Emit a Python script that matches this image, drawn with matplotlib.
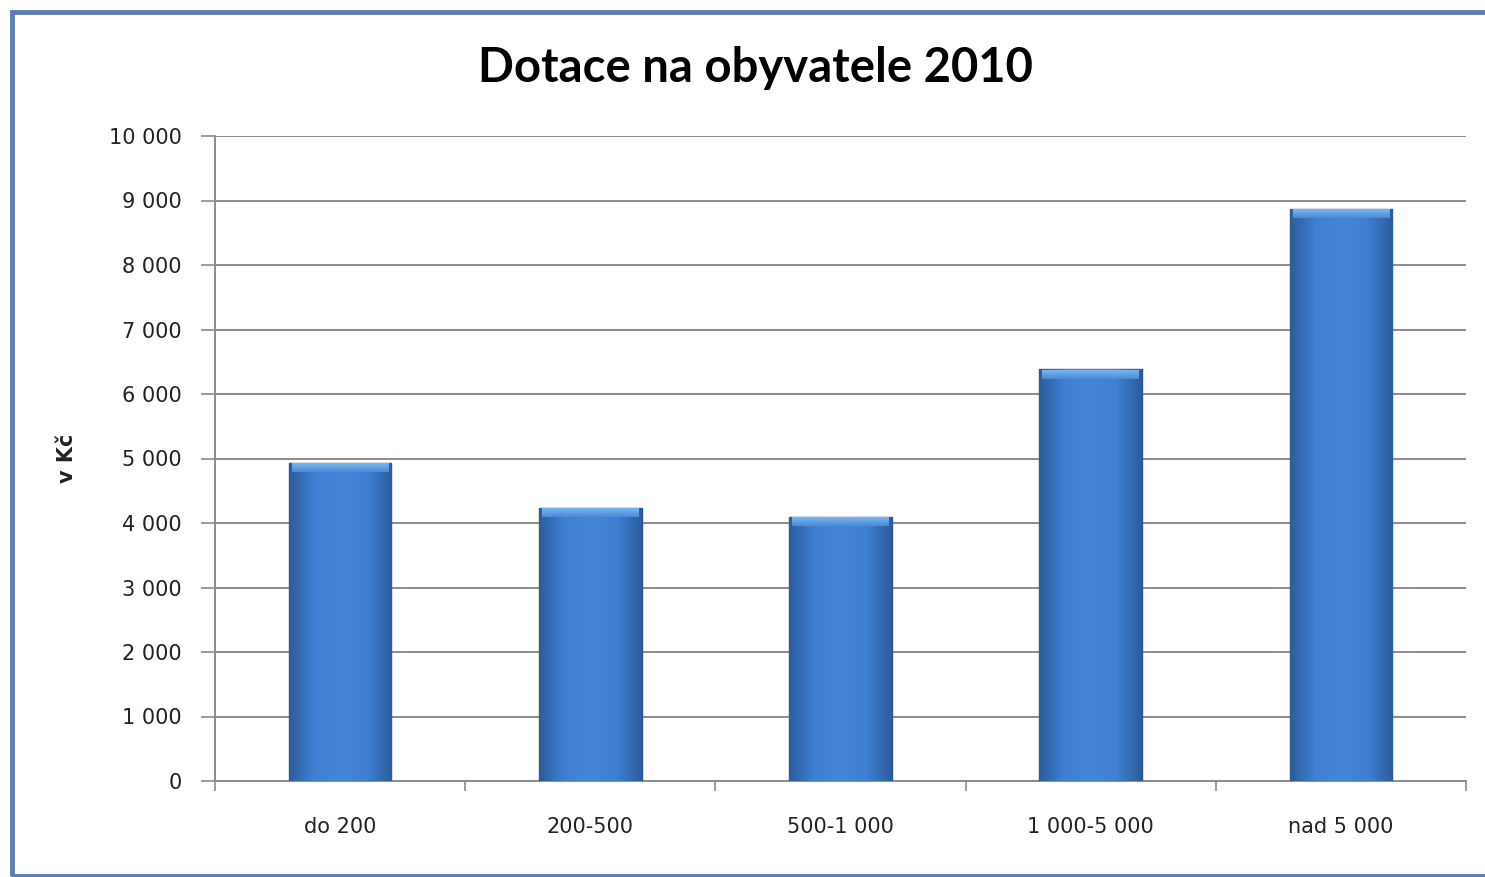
import numpy as np
import matplotlib.pyplot as plt
from matplotlib.patches import Rectangle
from matplotlib.colors import LinearSegmentedColormap

categories = ["do 200", "200-500", "500-1 000", "1 000-5 000", "nad 5 000"]
values = [4930, 4230, 4090, 6380, 8870]
yticks = list(range(0, 10001, 1000))
ytick_labels = ["0" if v == 0 else f"{v:,}".replace(",", " ") for v in yticks]

plt.rcParams['font.family'] = ['DejaVu Sans']

fig = plt.figure(figsize=(14.85, 8.77), dpi=100)
ax = fig.add_axes([215 / 1485, 96 / 877, 1251 / 1485, 645 / 877])

x = np.arange(len(categories))
width = 0.41
bars = ax.bar(x, values, width=width, color='#3b78c8', edgecolor='#2a5590',
              linewidth=1.0, zorder=3)

# horizontal gradient inside each bar (darker edges, lighter middle)
grad_cmap = LinearSegmentedColormap.from_list(
    'barg', ['#2b5c9e', '#3f80d2', '#4585d6', '#3f80d2', '#2b5c9e'])
grad = np.linspace(0, 1, 256).reshape(1, -1)
bevel_cmap = LinearSegmentedColormap.from_list('bev', ['#4a8ad8', '#7ab6ee'])
bev = np.linspace(0, 1, 32).reshape(-1, 1)
for b in bars:
    x0, w, h = b.get_x(), b.get_width(), b.get_height()
    im = ax.imshow(grad, cmap=grad_cmap, aspect='auto',
                   extent=[x0, x0 + w, 0, h], zorder=3.5)
    im.set_clip_path(b)
    # light bevel at the top
    ax.imshow(bev, cmap=bevel_cmap, aspect='auto', origin='lower',
              extent=[x0 + w * 0.03, x0 + w * 0.97, h - 140, h - 15], zorder=4)

ax.set_xlim(-0.5, len(categories) - 0.5)
ax.set_ylim(0, 10000)
ax.set_yticks(yticks)
ax.set_yticklabels(ytick_labels, fontsize=15, color='#222222')
ax.set_xticks(x)
ax.set_xticklabels(categories, fontsize=15, color='#222222')
ax.set_xticks(np.arange(-0.5, len(categories)), minor=True)
ax.tick_params(axis='x', which='major', length=0, pad=26)
ax.tick_params(axis='x', which='minor', length=7, color='#8c8c8c', width=1.2)
ax.tick_params(axis='y', length=10, color='#8c8c8c', width=1.2, pad=14)

ax.grid(axis='y', color='#8c8c8c', linewidth=1.4, zorder=1)
ax.set_axisbelow(True)
for s in ['top', 'right']:
    ax.spines[s].set_visible(False)
for s in ['left', 'bottom']:
    ax.spines[s].set_color('#8c8c8c')
    ax.spines[s].set_linewidth(1.4)

ax.set_ylabel("v Kč", fontsize=15, fontweight='bold', color='#222222')
ax.yaxis.set_label_coords(-0.11, 0.5)

fig.text(755 / 1485, 1 - 68 / 877, "Dotace na obyvatele 2010", fontsize=34,
         fontweight='bold', ha='center', va='center', family='Lato')

# blue frame around the chart
fig.patches.append(Rectangle((12 / 1485, 1 / 877), 1480 / 1485, 864 / 877,
                             transform=fig.transFigure, fill=False,
                             edgecolor='#5a7db3', linewidth=3.5, zorder=10))

fig.savefig("out.png", dpi=100)
